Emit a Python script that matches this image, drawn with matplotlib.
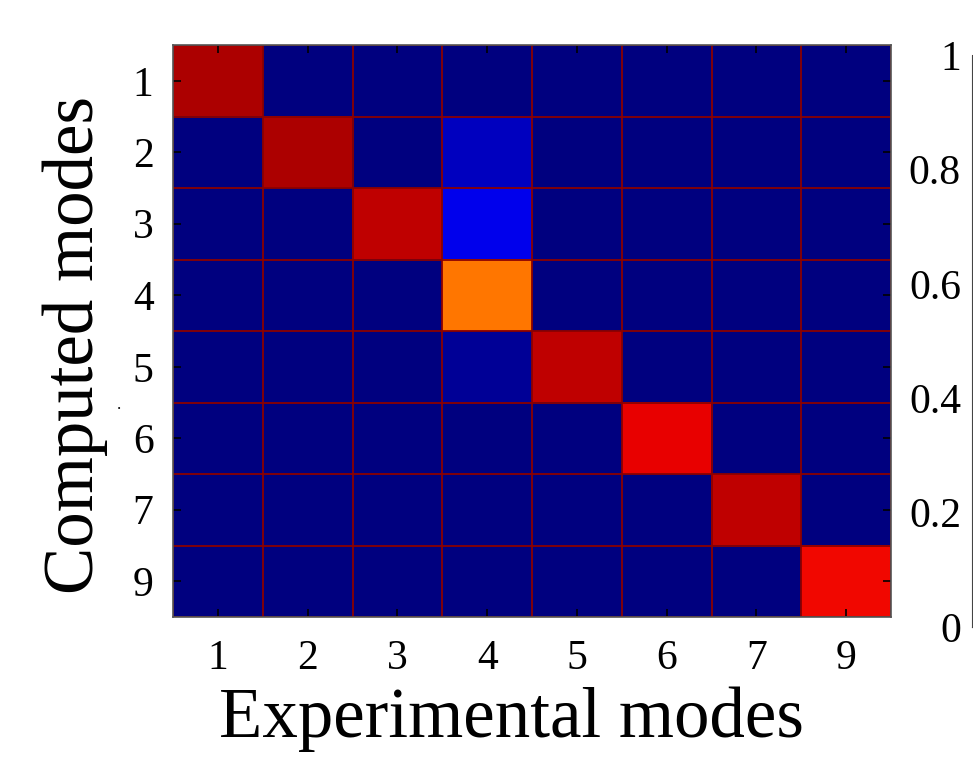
import matplotlib
matplotlib.use("Agg")
import matplotlib.pyplot as plt
import numpy as np

computed = ["1", "2", "3", "4", "5", "6", "7", "9"]
experimental = ["1", "2", "3", "4", "5", "6", "7", "9"]

# MAC values, rows = computed modes, cols = experimental modes
mac = np.array([
    [0.96, 0.00, 0.00, 0.00, 0.00, 0.00, 0.00, 0.00],
    [0.00, 0.96, 0.00, 0.055, 0.00, 0.00, 0.00, 0.00],
    [0.00, 0.00, 0.945, 0.095, 0.00, 0.00, 0.00, 0.00],
    [0.00, 0.00, 0.00, 0.785, 0.00, 0.00, 0.00, 0.00],
    [0.00, 0.00, 0.00, 0.02, 0.945, 0.00, 0.00, 0.00],
    [0.00, 0.00, 0.00, 0.00, 0.00, 0.91, 0.00, 0.00],
    [0.00, 0.00, 0.00, 0.00, 0.00, 0.00, 0.945, 0.00],
    [0.00, 0.00, 0.00, 0.00, 0.00, 0.00, 0.00, 0.90],
])
cbar_ticks = [0, 0.2, 0.4, 0.6, 0.8, 1]
cbar_labels = ["0", "0.2", "0.4", "0.6", "0.8", "1"]

plt.rcParams["font.family"] = ["Liberation Serif", "DejaVu Serif"]

fig = plt.figure(figsize=(9.73, 7.58), dpi=100)
ax = fig.add_axes([173 / 973, 1 - 617 / 758, (891 - 173) / 973, (617 - 45) / 758])

im = ax.imshow(mac, cmap="jet", vmin=0, vmax=1, aspect="auto", interpolation="nearest")

n = len(experimental)
ax.set_xticks(range(n))
ax.set_xticklabels(experimental, fontsize=30)
ax.set_yticks(range(len(computed)))
ax.set_yticklabels(computed, fontsize=30)
ax.set_xticks(np.arange(-0.5, n, 1), minor=True)
ax.set_yticks(np.arange(-0.5, len(computed), 1), minor=True)
ax.grid(which="minor", color="#8b0000", linewidth=1.3)
ax.tick_params(which="minor", length=0)
ax.tick_params(which="major", direction="in", length=6, width=1.2, top=True, right=True,
               labeltop=False, labelright=False)
ax.tick_params(axis="x", pad=16)
ax.tick_params(axis="y", pad=14)
for s in ax.spines.values():
    s.set_color("#555555")
    s.set_linewidth(1.2)

ax.set_xlabel("Experimental modes", fontsize=51, labelpad=6, x=0.472)
ax.set_ylabel("Computed modes", fontsize=51, labelpad=18, y=0.475)
fig.text(119 / 973, 1 - 405 / 758, ".", fontsize=12, ha="center", va="center")

cax = fig.add_axes([972 / 973, 1 - 627 / 758, 0.03, 572 / 758])
cb = fig.colorbar(im, cax=cax)
cb.set_ticks(cbar_ticks)
cb.set_ticklabels(cbar_labels)
cax.yaxis.set_ticks_position("left")
cax.yaxis.set_label_position("left")
cax.tick_params(length=0, labelsize=30, pad=8)
cb.outline.set_edgecolor("#444444")

fig.savefig("out.png", dpi=100)
